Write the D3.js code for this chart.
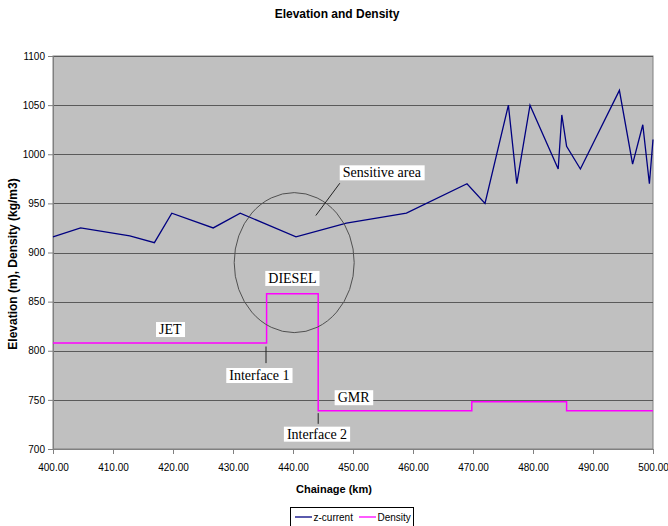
<!DOCTYPE html>
<html><head><meta charset="utf-8">
<script src="https://cdn.jsdelivr.net/npm/d3@7"></script>
<style>body{margin:0;background:#fff}svg{display:block}</style>
</head><body>
<svg id="c" width="668" height="526"></svg>
<script>
const chainage = [400, 404.6, 412.8, 416.9, 419.8, 426.7, 431.2, 440.5, 448.9, 458.9, 469, 472, 475.9, 477.3, 479.5, 484.2, 484.8, 485.6, 487.9, 494.4, 496.6, 498.3, 499.4, 500];
const zCurrent = [916, 925, 917, 910, 940, 925, 940, 916, 930, 940, 970, 950, 1050, 970, 1050, 985, 1040, 1008, 985, 1065, 990, 1030, 970, 1015];
const densityKm = [400, 435.6, 435.6, 444.2, 444.2, 469.8, 469.8, 485.6, 485.6, 500];
const density = [808, 808, 858, 858, 739, 739, 748, 748, 739, 739];
const xTicks = [400, 410, 420, 430, 440, 450, 460, 470, 480, 490, 500];
const yTicks = [700, 750, 800, 850, 900, 950, 1000, 1050, 1100];
const seriesNames = ["z-current", "Density"];
const seriesColors = ["#000080", "#ff00ff"];
const labels = [
  {text: "Sensitive area", km: 454.8, v: 981.5},
  {text: "DIESEL", km: 439.9, v: 874},
  {text: "JET", km: 419.55, v: 822},
  {text: "Interface 1", km: 434.4, v: 775.2},
  {text: "GMR", km: 450.1, v: 752.6},
  {text: "Interface 2", km: 444.0, v: 715.5}
];
const pointers = [
  {k1: 447.8, v1: 970.5, k2: 443.8, v2: 937.6},
  {k1: 435.5, v1: 804.3, k2: 435.5, v2: 787.4},
  {k1: 444.2, v1: 736.5, k2: 444.2, v2: 725.6}
];

const svg = d3.select("#c");
const m = {l: 53, r: 653, t: 56, b: 449};
const x = d3.scaleLinear().domain([400, 500]).range([m.l, m.r]);
const y = d3.scaleLinear().domain([700, 1100]).range([m.b, m.t]);
const sans = "Liberation Sans, Arial, sans-serif";

svg.append("rect").attr("x", m.l).attr("y", m.t).attr("width", m.r - m.l).attr("height", m.b - m.t)
  .attr("fill", "#c0c0c0").attr("stroke", "#808080").attr("stroke-width", 1);

svg.append("g").selectAll("line").data(yTicks).join("line")
  .attr("x1", m.l).attr("x2", m.r).attr("y1", d => Math.round(y(d)) + 0.5).attr("y2", d => Math.round(y(d)) + 0.5)
  .attr("stroke", "#5a5a5a").attr("stroke-width", 1);

const yAxis = svg.append("g").attr("transform", `translate(${m.l},0)`)
  .call(d3.axisLeft(y).tickValues(yTicks).tickSize(5).tickPadding(3).tickFormat(d3.format("d")));
const xAxis = svg.append("g").attr("transform", `translate(0,${m.b})`)
  .call(d3.axisBottom(x).tickValues(xTicks).tickSize(5).tickPadding(10).tickFormat(d3.format(".2f")));
[yAxis, xAxis].forEach(g => {
  g.selectAll("path,line").attr("stroke", "#808080");
  g.selectAll("text").attr("font-family", sans).attr("font-size", 10).attr("fill", "#000");
});

const line = d3.line().x(d => x(d[0])).y(d => y(d[1]));
svg.append("path").datum(chainage.map((k, i) => [k, zCurrent[i]]))
  .attr("d", line).attr("fill", "none").attr("stroke", seriesColors[0]).attr("stroke-width", 1.3);
svg.append("path").datum(densityKm.map((k, i) => [k, density[i]]))
  .attr("d", line).attr("fill", "none").attr("stroke", seriesColors[1]).attr("stroke-width", 1.5);

// sensitive area ellipse
svg.append("ellipse").attr("cx", x(440.2)).attr("cy", y(889.7)).attr("rx", 60).attr("ry", 70)
  .attr("fill", "none").attr("stroke", "#505050").attr("stroke-width", 1);

// pointer lines
svg.append("g").selectAll("line").data(pointers).join("line")
  .attr("x1", d => x(d.k1)).attr("y1", d => y(d.v1)).attr("x2", d => x(d.k2)).attr("y2", d => y(d.v2))
  .attr("stroke", "#222").attr("stroke-width", 1);

// labels with white boxes
const lg = svg.append("g").selectAll("g").data(labels).join("g")
  .attr("transform", d => `translate(${x(d.km)},${y(d.v)})`);
lg.append("text").text(d => d.text).attr("text-anchor", "middle").attr("dy", "0.35em")
  .attr("font-family", "Liberation Serif, Times New Roman, serif").attr("font-size", 14).attr("fill", "#000");
lg.each(function() {
  const g = d3.select(this); const b = g.select("text").node().getBBox();
  g.insert("rect", "text").attr("x", b.x - 3).attr("y", b.y).attr("width", b.width + 6).attr("height", b.height)
    .attr("fill", "#fff");
});

// titles
svg.append("text").attr("x", 337).attr("y", 18).attr("text-anchor", "middle")
  .attr("font-family", sans).attr("font-size", 12).attr("font-weight", "bold")
  .text("Elevation and Density");
svg.append("text").attr("x", 334).attr("y", 493).attr("text-anchor", "middle")
  .attr("font-family", sans).attr("font-size", 11).attr("font-weight", "bold")
  .text("Chainage (km)");
svg.append("text").attr("transform", "translate(17,264) rotate(-90)").attr("text-anchor", "middle")
  .attr("font-family", sans).attr("font-size", 12).attr("font-weight", "bold")
  .text("Elevation (m), Density (kg/m3)");

// legend
const leg = svg.append("g");
leg.append("rect").attr("x", 290.5).attr("y", 507.5).attr("width", 123).attr("height", 19)
  .attr("fill", "#fff").attr("stroke", "#000").attr("stroke-width", 1);
const li = leg.selectAll("g").data(seriesNames).join("g")
  .attr("transform", (d, i) => `translate(${295 + i * 64},517)`);
li.append("line").attr("x1", 0).attr("x2", 17).attr("stroke", (d, i) => seriesColors[i]).attr("stroke-width", 1.3);
li.append("text").attr("x", 18.5).attr("dy", "0.35em").text(d => d)
  .attr("font-family", sans).attr("font-size", 10);
</script>
</body></html>
